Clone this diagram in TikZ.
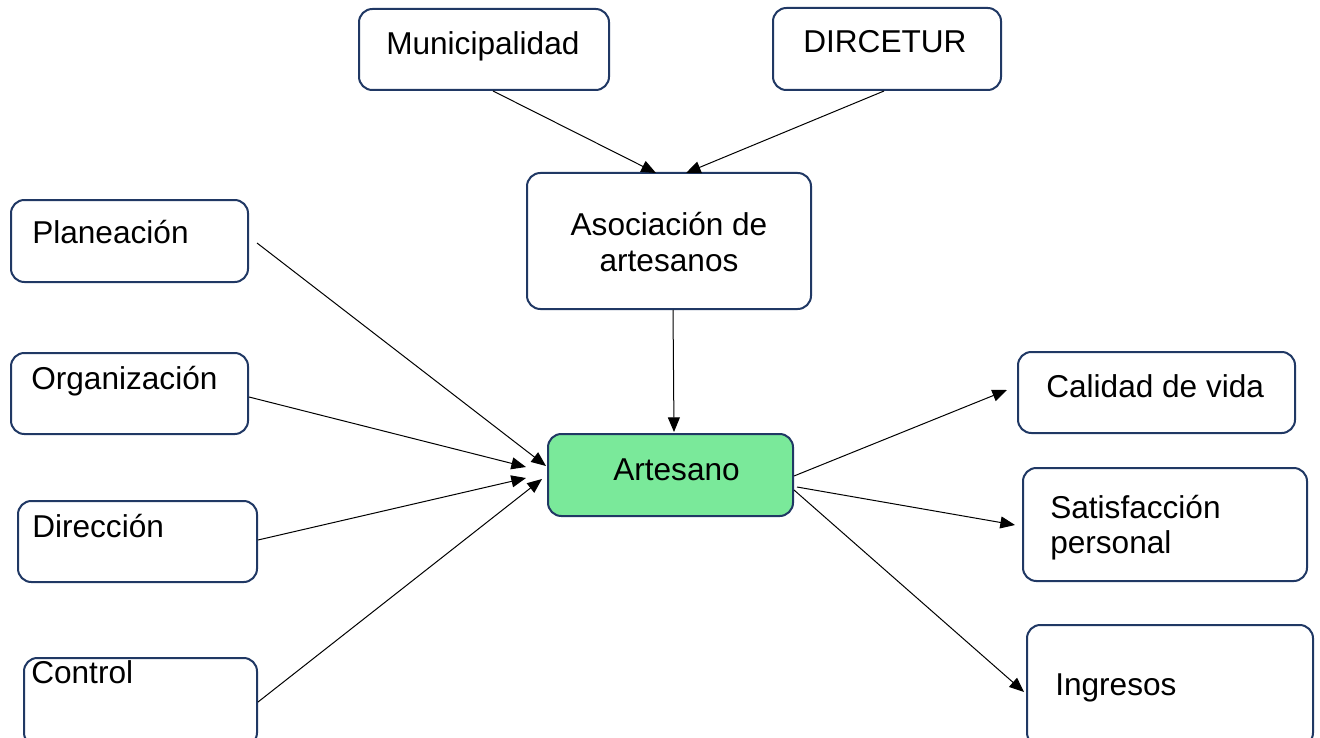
\documentclass[tikz,border=0pt]{standalone}
\usepackage{fontspec}
\setmainfont{Liberation Sans}
\usetikzlibrary{arrows.meta,calc}
\definecolor{navy}{RGB}{32,56,100}
\definecolor{artgreen}{RGB}{122,233,154}
\tikzset{
  box/.style={draw=navy, line width=1.5pt, rounded corners=10pt, fill=white, inner sep=0pt},
  lbl/.style={inner sep=0pt, anchor=base west, font=\fontsize{23.7}{27}\selectfont},
  clbl/.style={inner sep=0pt, anchor=base, font=\fontsize{23.7}{27}\selectfont},
  conn/.style={draw=black, line width=0.75pt, -{Triangle[length=11pt,width=9pt]}}
}
\newcommand{\boxat}[6][]{\node[box, #1, minimum width={(#5-#3)*0.75pt}, minimum height={(#6-#4)*0.75pt}] (#2) at ({(#3+#5)/2},{(#4+#6)/2}) {};}
\begin{document}
\begin{tikzpicture}[x=0.75pt,y=-0.75pt]
\useasboundingbox (0,0) rectangle (1320,738);
% boxes
\boxat{muni}{359}{9}{609}{90}
\boxat{dirc}{773}{8}{1001}{90}
\boxat{asoc}{527}{173}{811}{309}
\boxat{plan}{11}{200}{248}{282}
\boxat{orga}{11}{353}{248}{434}
\boxat{dire}{18}{501}{257}{582}
\boxat{cont}{24}{658}{257}{746}
\boxat[fill=artgreen]{art}{548}{434}{793}{516}
\boxat{cali}{1018}{352}{1295}{433}
\boxat{sati}{1023}{468}{1307}{581}
\boxat{ingr}{1027}{625}{1313}{746}
% texts
\node[lbl] (tmuni) at (386,55) {Municipalidad};
\node[lbl] (tdirc) at (803,53) {DIRCETUR};
\node[clbl] (tasoc1) at (669,235) {Asociación de};
\node[clbl] (tasoc2) at (669,271) {artesanos};
\node[lbl] (tplan) at (32,243) {Planeación};
\node[lbl] (torga) at (31,389) {Organización};
\node[lbl] (tdire) at (32,537) {Dirección};
\node[lbl] (tcont) at (31,683) {Control};
\node[lbl] (tart) at (613,480) {Artesano};
\node[lbl] (tcali) at (1046,397) {Calidad de vida};
\node[lbl] (tsati1) at (1050,518) {Satisfacción};
\node[lbl] (tsati2) at (1050,553) {personal};
\node[lbl] (tingr) at (1055,695) {Ingresos};
% connectors
\draw[conn] ($(muni.south)+(9,0)$) -- ($(asoc.north)+(-13,1)$);
\draw[conn] ($(dirc.south)+(-3,0)$) -- ($(asoc.north)+(17,1)$);
\draw[conn] ($(asoc.south)+(4,0)$) -- ($(art.north)+(3.5,-1)$);
\draw[conn] ($(plan.east)+(8,2)$) -- ($(art.west)+(-1,-9)$);
\draw[conn] ($(orga.east)+(0,3.5)$) -- ($(art.west)+(-21,-8)$);
\draw[conn] ($(dire.east)+(0,-1.5)$) -- ($(art.west)+(-21,3)$);
\draw[conn] ($(cont.east)+(0,0)$) -- ($(art.west)+(-5,4)$);
\draw[conn] ($(art.east)+(0,1)$) -- ($(cali.west)+(-10,-2.5)$);
\draw[conn] ($(art.east)+(3,12)$) -- ($(sati.west)+(-7,0.5)$);
\draw[conn] ($(art.east)+(0,15)$) -- ($(ingr.west)+(-2,6.5)$);
\end{tikzpicture}
\end{document}
